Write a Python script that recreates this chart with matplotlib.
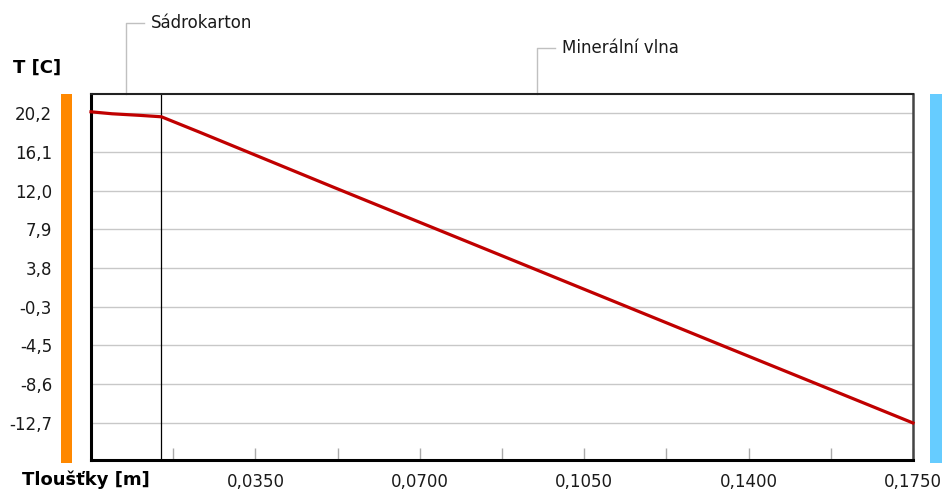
import numpy as np
import matplotlib
matplotlib.use("Agg")
import matplotlib.pyplot as plt
from matplotlib.patches import Rectangle
import matplotlib.transforms as mtransforms

plt.rcParams['font.family'] = ['DejaVu Sans']

# ---- data ----
layer_names = ["Sádrokarton", "Minerální vlna"]
layer_thickness = [0.015, 0.160]          # m
depth = [0.0, 0.0045, 0.0105, 0.015, 0.0232, 0.0515, 0.0871, 0.1339, 0.175]
temperature = [20.33, 20.12, 19.95, 19.80, 18.15, 12.35, 5.13, -4.38, -12.70]
y_tick_labels = ["20,2", "16,1", "12,0", "7,9", "3,8", "-0,3", "-4,5", "-8,6", "-12,7"]
x_tick_values = [0.035, 0.070, 0.105, 0.140, 0.175]
x_tick_labels = ["0,0350", "0,0700", "0,1050", "0,1400", "0,1750"]
x_label = "Tloušťky [m]"
y_label = "T [C]"

W, H = 948, 499
fig = plt.figure(figsize=(W / 100, H / 100), dpi=100)
L, R, T, B = 91, 913, 94, 460
ax = fig.add_axes([L / W, 1 - B / H, (R - L) / W, (B - T) / H])

total = sum(layer_thickness)
ax.set_xlim(0, total)
ax.set_ylim(-16.63, 22.22)

# y ticks evenly spaced between first and last label value
y_first = float(y_tick_labels[0].replace(",", "."))
y_last = float(y_tick_labels[-1].replace(",", "."))
y_ticks = np.linspace(y_first, y_last, len(y_tick_labels))
ax.set_yticks(y_ticks, y_tick_labels)
ax.tick_params(axis='y', length=0, pad=28, labelsize=12, labelcolor='#1a1a1a')
for yv in y_ticks:
    ax.axhline(yv, color='#c8c8c8', lw=1.0, zorder=1)

# x ticks
ax.set_xticks(x_tick_values, x_tick_labels)
minor = [v - 0.0175 for v in x_tick_values]
ax.set_xticks(minor, minor=True)
ax.tick_params(axis='x', which='both', direction='in', length=9, width=1,
               color='#aaaaaa', pad=9.5, labelsize=12, labelcolor='#1a1a1a')

# layer boundaries
bounds = np.cumsum(layer_thickness)
for b in bounds[:-1]:
    ax.axvline(b, color='black', lw=0.9, zorder=2)

# temperature line
ax.plot(depth, temperature, color='#c00000', lw=2.3, zorder=3, clip_on=False)

# spines
for s in ['left', 'bottom']:
    ax.spines[s].set_linewidth(2.2)
    ax.spines[s].set_color('black')
ax.spines['top'].set_linewidth(1.5)
ax.spines['top'].set_color('#222222')
ax.spines['right'].set_linewidth(1.8)
ax.spines['right'].set_color('#444444')

# leader labels for layers
trans = mtransforms.blended_transform_factory(ax.transData, ax.transAxes)
starts = np.concatenate([[0], bounds[:-1]])
heights = [1 + 71 / (B - T), 1 + 46 / (B - T)]
hlen = 18 / (R - L) * total
toff = 25 / (R - L) * total
for name, s0, th, hy in zip(layer_names, starts, layer_thickness, heights):
    mid = s0 + th / 2
    ax.plot([mid, mid, mid + hlen], [1.0, hy, hy], color='#c0c0c0', lw=1.0,
            transform=trans, clip_on=False)
    ax.text(mid + toff, hy, name, transform=trans, ha='left', va='center',
            fontsize=12, color='#1a1a1a')

# side colour bars
axw = R - L
axh = B - T
ax.add_patch(Rectangle((-30 / axw, -3 / axh), 11 / axw, 1 + 3 / axh,
                       transform=ax.transAxes, color='#ff8800', clip_on=False, lw=0))
ax.add_patch(Rectangle((1 + 17 / axw, -3 / axh), 12 / axw, 1 + 3 / axh,
                       transform=ax.transAxes, color='#66ccff', clip_on=False, lw=0))

# axis titles
fig.text(13 / W, 1 - 68 / H, y_label, fontsize=13, fontweight='bold', ha='left', va='center')
fig.text(22 / W, 1 - 480 / H, x_label, fontsize=13, fontweight='bold', ha='left', va='center')

fig.savefig("out.png", dpi=100)
